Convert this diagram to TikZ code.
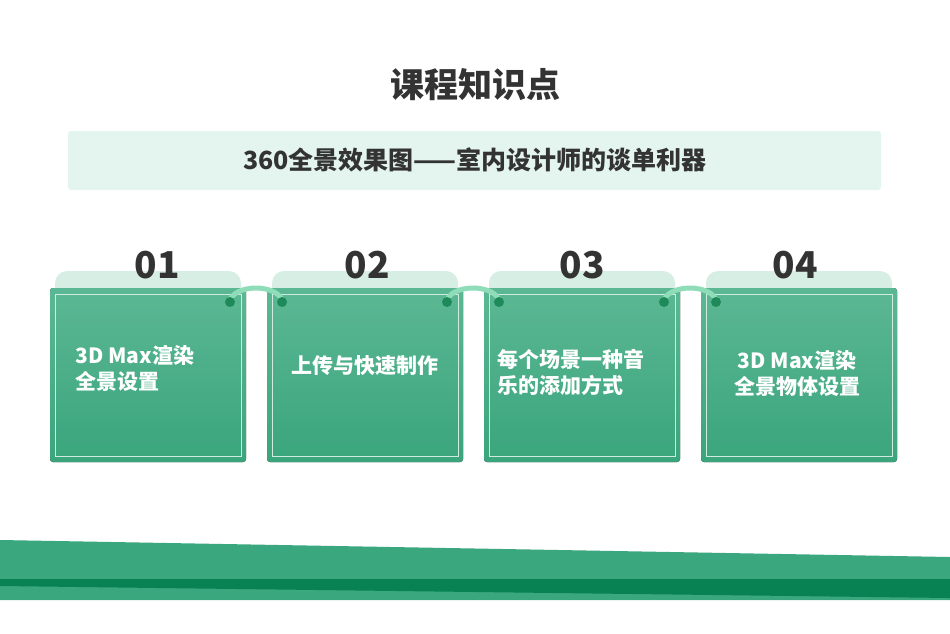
\documentclass[tikz,border=0pt]{standalone}
\usepackage{fontspec}
\setmainfont{Noto Sans CJK SC}
\begin{document}
\begin{tikzpicture}[x=1pt,y=-1pt,
  cardtxt/.style={text=white,font=\bfseries\fontsize{21}{26}\selectfont,align=left},
  num/.style={text=txtc,font=\bfseries\fontsize{37}{37}\selectfont}]
\definecolor{cardg}{HTML}{45AE85}
\definecolor{cardd}{HTML}{3AA57C}
\definecolor{tabc}{HTML}{D7EEE5}
\definecolor{holeg}{HTML}{1E8A5A}
\definecolor{hookc}{HTML}{8FDDB8}
\definecolor{txtc}{HTML}{333333}
\definecolor{band}{HTML}{E3F5EE}
\definecolor{bandl}{HTML}{3AA77E}
\definecolor{bandd}{HTML}{088253}
\useasboundingbox (0,0) rectangle (950,633);
\fill[white] (0,0) rectangle (950,633);
\node[text=txtc,font=\bfseries\fontsize{34}{34}\selectfont] (title) at (475,85) {课程知识点};
\fill[band,rounded corners=3pt] (68,131) rectangle (881,190);
\node[text=txtc,font=\bfseries\fontsize{25}{25}\selectfont] (sub) at (475,160) {360全景效果图——室内设计师的谈单利器};
\foreach \x/\n/\c in {50/01/157,267/02/367,484/03/582,701/04/795}{
  \fill[tabc,rounded corners=12pt] (\x+5,271) rectangle (\x+191,300);
  \fill[top color=cardg!88!white,bottom color=cardd,rounded corners=3pt] (\x,288) rectangle (\x+196,462);
  \draw[white!75!cardg,line width=0.7pt] (\x+5,294) rectangle (\x+191,456);
  \node[num] (n\n) at (\c,265) {\n};
}
\foreach \x in {230,447,664}{
  \draw[hookc,line width=5pt] (\x,302) arc[start angle=180,end angle=360,x radius=26,y radius=14];
  \fill[holeg] (\x,302) circle (5);
  \fill[holeg] (\x+52,302) circle (5);
}
\node[cardtxt,anchor=west] (t1) at (72,368) {3D Max渲染\\全景设置};
\node[cardtxt,align=center] (t2) at (365,366) {上传与快速制作};
\node[cardtxt,anchor=west] (t3) at (494,372) {每个场景一种音\\乐的添加方式};
\node[cardtxt,align=center] (t4) at (797,373) {3D Max渲染\\全景物体设置};
\fill[bandl] (0,540) -- (950,557) -- (950,600) -- (0,600) -- cycle;
\fill[bandd] (0,579) -- (950,579) -- (950,598) -- (0,586) -- cycle;
\end{tikzpicture}
\end{document}
